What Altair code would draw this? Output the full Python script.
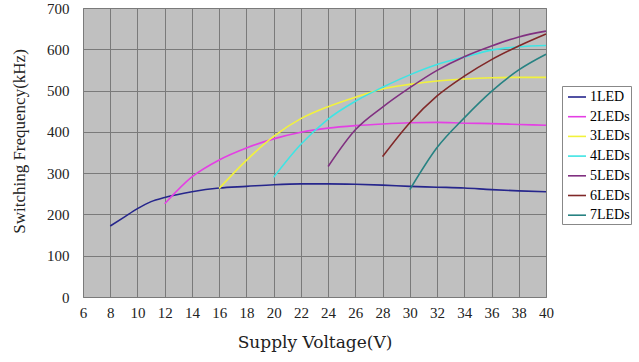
import altair as alt
import pandas as pd

series_names = ["1LED", "2LEDs", "3LEDs", "4LEDs", "5LEDs", "6LEDs", "7LEDs"]
series_colors = ["#26268C", "#E43FE4", "#F2F23C", "#3FE4E4", "#803080", "#802828", "#278282"]

v1 = [8, 9, 10, 11, 12, 14, 16, 18, 20, 22, 24, 26, 28, 30, 32, 34, 36, 38, 40]
f1 = [172, 193, 214, 231, 241, 255, 264, 268, 272, 274, 274, 273, 271, 268, 266, 264, 260, 257, 255]

v2 = [12, 14, 16, 18, 20, 22, 24, 26, 28, 30, 32, 34, 36, 38, 40]
f2 = [226, 291, 332, 361, 383, 399, 409, 415, 419, 422, 423, 421, 420, 418, 416]

v3 = [16, 18, 20, 22, 24, 26, 28, 30, 32, 34, 36, 38, 40]
f3 = [263, 331, 389, 432, 461, 484, 504, 515, 523, 528, 531, 532, 532]

v4 = [20, 22, 24, 26, 28, 30, 32, 34, 36, 38, 40]
f4 = [290, 370, 431, 474, 508, 538, 563, 581, 598, 606, 609]

v5 = [24, 26, 28, 30, 32, 34, 36, 38, 40]
f5 = [316, 405, 460, 507, 549, 582, 608, 630, 644]

v6 = [28, 30, 32, 34, 36, 38, 40]
f6 = [340, 422, 487, 535, 575, 608, 637]

v7 = [30, 32, 34, 36, 38, 40]
f7 = [260, 362, 434, 498, 550, 588]

x_ticks = list(range(6, 41, 2))
y_ticks = list(range(0, 701, 100))

rows = []
for name, vs, fs in zip(series_names, [v1, v2, v3, v4, v5, v6, v7], [f1, f2, f3, f4, f5, f6, f7]):
    for v, f in zip(vs, fs):
        rows.append({"series": name, "voltage": v, "freq": f})
df = pd.DataFrame(rows)

font = "Liberation Serif"

chart = alt.Chart(df).mark_line(interpolate="monotone", strokeWidth=1.6).encode(
    x=alt.X("voltage:Q",
            scale=alt.Scale(domain=[6, 40], nice=False, zero=False),
            axis=alt.Axis(values=x_ticks, title="Supply Voltage(V)", format="d",
                          titlePadding=14, labelPadding=8, labelFlush=False,
                          titleFont="DejaVu Serif", titleFontSize=17)),
    y=alt.Y("freq:Q",
            scale=alt.Scale(domain=[0, 700], nice=False),
            axis=alt.Axis(values=y_ticks, title="Switching Frequency(kHz)",
                          titlePadding=18, labelPadding=14, labelFlush=False,
                          titleY=133)),
    color=alt.Color("series:N",
                    scale=alt.Scale(domain=series_names, range=series_colors),
                    legend=alt.Legend(title=None, orient="none", legendX=479, legendY=78,
                                      symbolType="stroke", symbolSize=324,
                                      symbolStrokeWidth=1.6, symbolOffset=4,
                                      labelFontSize=14,
                                      labelFont=font, labelColor="#000",
                                      rowPadding=2.7, padding=1, offset=0,
                                      fillColor="#FFFFFF", strokeColor="#888888",
                                      labelOffset=3)),
    detail="series:N",
).properties(
    width=463, height=289,
    autosize=alt.AutoSizeParams(type="none"),
    padding={"left": 83, "top": 8, "right": 93, "bottom": 65},
    background="#FFFFFF",
).configure_view(
    fill="#C0C0C0", stroke="#808080", strokeWidth=1,
).configure_axis(
    grid=True, gridColor="#7A7A7A", gridWidth=1, gridOpacity=1,
    domain=False, ticks=False,
    labelFont=font, labelFontSize=15, labelColor="#222",
    titleFont=font, titleFontSize=17, titleFontWeight="normal", titleColor="#222",
)

chart.save("out.html", embed_options={"renderer": "svg", "actions": False})
